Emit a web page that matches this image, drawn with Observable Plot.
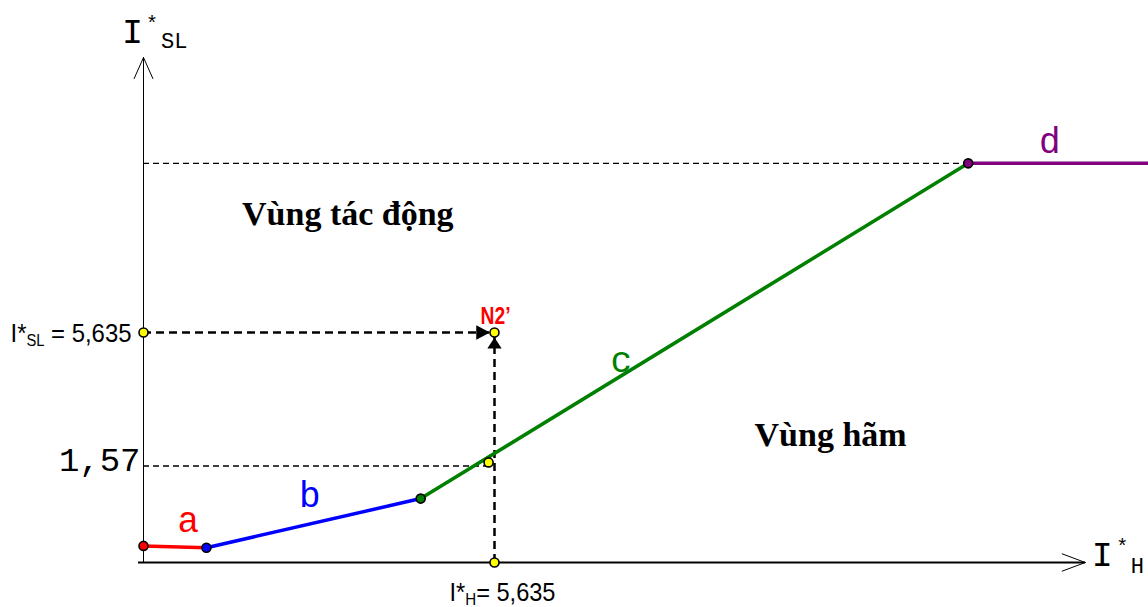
<!DOCTYPE html>
<html>
<head>
<meta charset="utf-8">
<script src="https://cdn.jsdelivr.net/npm/d3@7"></script>
<script src="https://cdn.jsdelivr.net/npm/@observablehq/plot@0.6"></script>
<style>
  html, body { margin: 0; padding: 0; background: #fff; overflow: hidden; }
  #chart svg { display: block; }
</style>
</head>
<body>
<div id="chart"></div>
<script>
// Restraint characteristic a-b-c-d: I*SL against I*H
const segments = ["a", "b", "c", "d"];
const breakH  = [0, 1.01, 4.45, 13.24, 16.14];    // I*H at the break points
const breakSL = [0.27, 0.24, 1.04, 10.78, 10.78]; // I*SL at the break points

// Operating point N2'
const opH = 5.635;
const opSL = 5.635;
// Level marked on the I*SL axis and the point of branch c at that level
const refSL = 1.57;
const cPointH = 5.54;
const cPointSL = 1.68;
// Axis extents
const axisMinH = -0.08;
const axisMaxH = 15.12;
const axisMaxSL = 14;

const regionTop = "Vùng tác động";
const regionBottom = "Vùng hãm";

// ---- styling ----
const segColors = ["#ff0000", "#0000ff", "#008000", "#800080"];
const mono = "'Liberation Mono', 'Courier New', monospace";
const sans = "'Liberation Sans', Arial, sans-serif";
const serif = "'Liberation Serif', 'Times New Roman', serif";
const fmt = (v) => String(v).replace(".", ",");

// the I*SL axis is not drawn to a single scale: the part below 1,57 is stretched
const warpSL = d3.scaleLinear().domain([0, refSL, opSL, axisMaxSL]).range([0, 96.5, 230, 505]);

const rows = segments.flatMap((s, i) => [
  {s, h: breakH[i], sl: breakSL[i]},
  {s, h: breakH[i + 1], sl: breakSL[i + 1]}
]);
const knots = segments.map((s, i) => ({s, h: breakH[i], sl: breakSL[i]}));
const marked = [
  {h: 0, sl: opSL},
  {h: opH, sl: 0},
  {h: cPointH, sl: cPointSL},
  {h: opH, sl: opSL}
];

// filled arrow heads with the tip at the symbol origin
const headRight = {draw(c, size) {
  const s = Math.sqrt(size / Math.PI);
  c.moveTo(0, 0); c.lineTo(-2.5 * s, -1.3 * s); c.lineTo(-2.5 * s, 1.3 * s); c.closePath();
}};
const headUp = {draw(c, size) {
  const s = Math.sqrt(size / Math.PI);
  c.moveTo(0, 0); c.lineTo(-1.3 * s, 2 * s); c.lineTo(1.3 * s, 2 * s); c.closePath();
}};

const thinDash = {stroke: "#000", strokeWidth: 1.3, strokeDasharray: "6,4"};
const thickDash = {stroke: "#000", strokeWidth: 2.5, strokeDasharray: "8,5"};
const letter = {fontFamily: mono, fontSize: 36, textAnchor: "middle", lineAnchor: "bottom"};

const labelSL = `I*SL = ${fmt(opSL)}`;
const labelH = `I*H= ${fmt(opH)}`;

const svg = Plot.plot({
  width: 1148,
  height: 607,
  margin: 0,
  x: {axis: null, domain: [0, opH], range: [143, 494]},
  y: {axis: null, transform: warpSL, domain: [0, warpSL(axisMaxSL)], range: [562, 57]},
  color: {domain: segments, range: segColors},
  marks: [
    // axes
    Plot.ruleY([0], {x1: axisMinH, x2: axisMaxH, stroke: "#000", strokeWidth: 2}),
    Plot.arrow([0], {x1: axisMinH, y1: 0, x2: axisMaxH, y2: 0, stroke: "#000", strokeWidth: 1, headLength: 37, headAngle: 41}),
    Plot.arrow([0], {x1: 0, y1: 0, x2: 0, y2: axisMaxSL, stroke: "#000", strokeWidth: 1, headLength: 34.5, headAngle: 48}),

    // guide lines
    Plot.ruleY([breakSL[3]], {x1: 0, x2: breakH[3], ...thinDash}),
    Plot.ruleY([refSL], {x1: 0, x2: cPointH, ...thinDash}),
    Plot.ruleY([opSL], {x1: 0, x2: opH, ...thickDash}),
    Plot.ruleX([opH], {y1: 0, y2: opSL, ...thickDash}),

    // characteristic
    Plot.line(rows, {x: "h", y: "sl", z: "s", stroke: "s", strokeWidth: 3.5}),
    Plot.dot(knots, {x: "h", y: "sl", fill: "s", stroke: "#000", strokeWidth: 1.6, r: 4.5}),

    // marked points and arrow heads
    Plot.dot([0], {x: opH, y: opSL, dx: -4.5, symbol: headRight, r: 5.5, fill: "#000", stroke: "none"}),
    Plot.dot(marked, {x: "h", y: "sl", fill: "#ffff00", stroke: "#000", strokeWidth: 1.6, r: 4.5}),
    Plot.dot([0], {x: opH, y: opSL, dy: 5, symbol: headUp, r: 5.5, fill: "#000", stroke: "none"}),

    // branch letters
    Plot.text(["a"], {x: 0.72, y: 0.5, fill: segColors[0], ...letter}),
    Plot.text(["b"], {x: 2.67, y: 0.9, fill: segColors[1], ...letter}),
    Plot.text(["c"], {x: 7.67, y: 4.42, fill: segColors[2], ...letter}),
    Plot.text(["d"], {x: 14.55, y: 11.11, fill: segColors[3], ...letter}),

    // regions
    Plot.text([regionTop], {x: 3.28, y: 8.89, fontFamily: serif, fontWeight: "bold", fontSize: 34, textAnchor: "middle", lineAnchor: "bottom", fill: "#000"}),
    Plot.text([regionBottom], {x: 11.03, y: 2.19, fontFamily: serif, fontWeight: "bold", fontSize: 34, textAnchor: "middle", lineAnchor: "bottom", fill: "#000"}),

    // value labels
    Plot.text([fmt(refSL)], {x: 0, y: refSL, dx: -3, dy: 4.5, fontFamily: mono, fontSize: 34, textAnchor: "end", lineAnchor: "bottom", fill: "#000"}),
    Plot.text([labelSL], {x: 0, y: opSL, dx: -133, dy: 9, fontFamily: sans, fontSize: 26, textAnchor: "start", lineAnchor: "bottom", fill: "#000"}),
    Plot.text([labelH], {x: opH, y: 0, dx: -45, dy: 38, fontFamily: sans, fontSize: 25, textAnchor: "start", lineAnchor: "bottom", fill: "#000"}),
    Plot.text(["N2’"], {x: opH, y: opSL, dx: 1, dy: -9, fontFamily: sans, fontWeight: "bold", fontSize: 24, textAnchor: "middle", lineAnchor: "bottom", fill: "#ff0000"}),

    // axis titles
    Plot.text(["I*SL"], {x: 0, y: axisMaxSL, dx: -21.5, dy: -15, fontFamily: mono, fontSize: 35, textAnchor: "start", lineAnchor: "bottom", fill: "#000"}),
    Plot.text(["I*H"], {x: axisMaxH, y: 0, dx: 6.5, dy: 3, fontFamily: mono, fontSize: 35, textAnchor: "start", lineAnchor: "bottom", fill: "#000"})
  ]
});

// superscripts / subscripts inside the labels
const rich = new Map([
  ["I*SL", {parts: [{t: "I"}, {t: "*", size: 20, shift: -13, dx: 3}, {t: "SL", size: 22, shift: 5, dx: 3}]}],
  ["I*H", {parts: [{t: "I"}, {t: "*", size: 20, shift: -13, dx: 3.5}, {t: "H", size: 22, shift: 7, dx: 2.5}]}],
  [labelSL, {parts: [{t: "I*"}, {t: "SL", size: 16, shift: 4}, {t: ` = ${fmt(opSL)}`}], length: 121}],
  [labelH, {parts: [{t: "I*"}, {t: "H", size: 16, shift: 4}, {t: `= ${fmt(opH)}`}], length: 106}],
  ["N2’", {length: 30}]
]);

d3.select(svg).selectAll("text").each(function () {
  const spec = rich.get(this.textContent);
  if (!spec) return;
  const t = d3.select(this);
  if (spec.parts) {
    t.text(null);
    let base = 0;
    for (const p of spec.parts) {
      const ts = t.append("tspan").text(p.t);
      const shift = p.shift || 0;
      if (shift !== base) ts.attr("dy", shift - base);
      base = shift;
      if (p.dx) ts.attr("dx", p.dx);
      if (p.size) ts.attr("font-size", p.size);
    }
  }
  if (spec.length) t.attr("textLength", spec.length).attr("lengthAdjust", "spacingAndGlyphs");
});

document.getElementById("chart").append(svg);
</script>
</body>
</html>
